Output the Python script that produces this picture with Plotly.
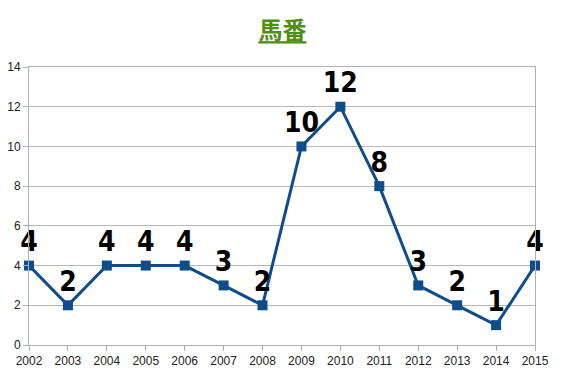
import plotly.graph_objects as go

years = [2002, 2003, 2004, 2005, 2006, 2007, 2008, 2009, 2010, 2011, 2012, 2013, 2014, 2015]
values = [4, 2, 4, 4, 4, 3, 2, 10, 12, 8, 3, 2, 1, 4]
title_text = "馬番"

fig = go.Figure()
fig.add_trace(go.Scatter(
    x=years, y=values, mode="lines+markers+text",
    line=dict(color="#0f4c8a", width=3),
    marker=dict(symbol="square", size=10, color="#0f4c8a"),
    text=[str(v) for v in values], textposition="top center",
    textfont=dict(family="DejaVu Sans Condensed, sans-serif", size=28, color="#000000", weight="bold"),
    cliponaxis=False, showlegend=False,
))

fig.update_layout(
    width=567, height=378,
    margin=dict(l=21, r=40, t=59, b=41),
    paper_bgcolor="white", plot_bgcolor="white",
    title=dict(text="<span style=\"text-decoration:underline\"><b>" + title_text + "</b></span>",
               x=0.484, xanchor="center", y=0.962, yanchor="top",
               font=dict(family="Noto Sans CJK JP", size=24, color="#4f8f14")),
    font=dict(family="Liberation Sans, DejaVu Sans, sans-serif", size=12, color="#222222"),
)
fig.update_xaxes(
    range=[2002, 2015], tickmode="array", tickvals=years, ticktext=[str(y) for y in years],
    showgrid=False, showline=True, linecolor="#b0b0b0", linewidth=1, mirror=True,
    ticks="outside", ticklen=5, tickcolor="#b0b0b0", zeroline=False, automargin=False,
)
fig.update_yaxes(
    range=[0, 14], dtick=2, showgrid=True, gridcolor="#b8b8b8", gridwidth=1,
    showline=True, linecolor="#b0b0b0", linewidth=1, mirror=True,
    ticks="outside", ticklen=5, tickcolor="#b0b0b0", zeroline=False, automargin=False,
)

fig.write_html("out.html")
